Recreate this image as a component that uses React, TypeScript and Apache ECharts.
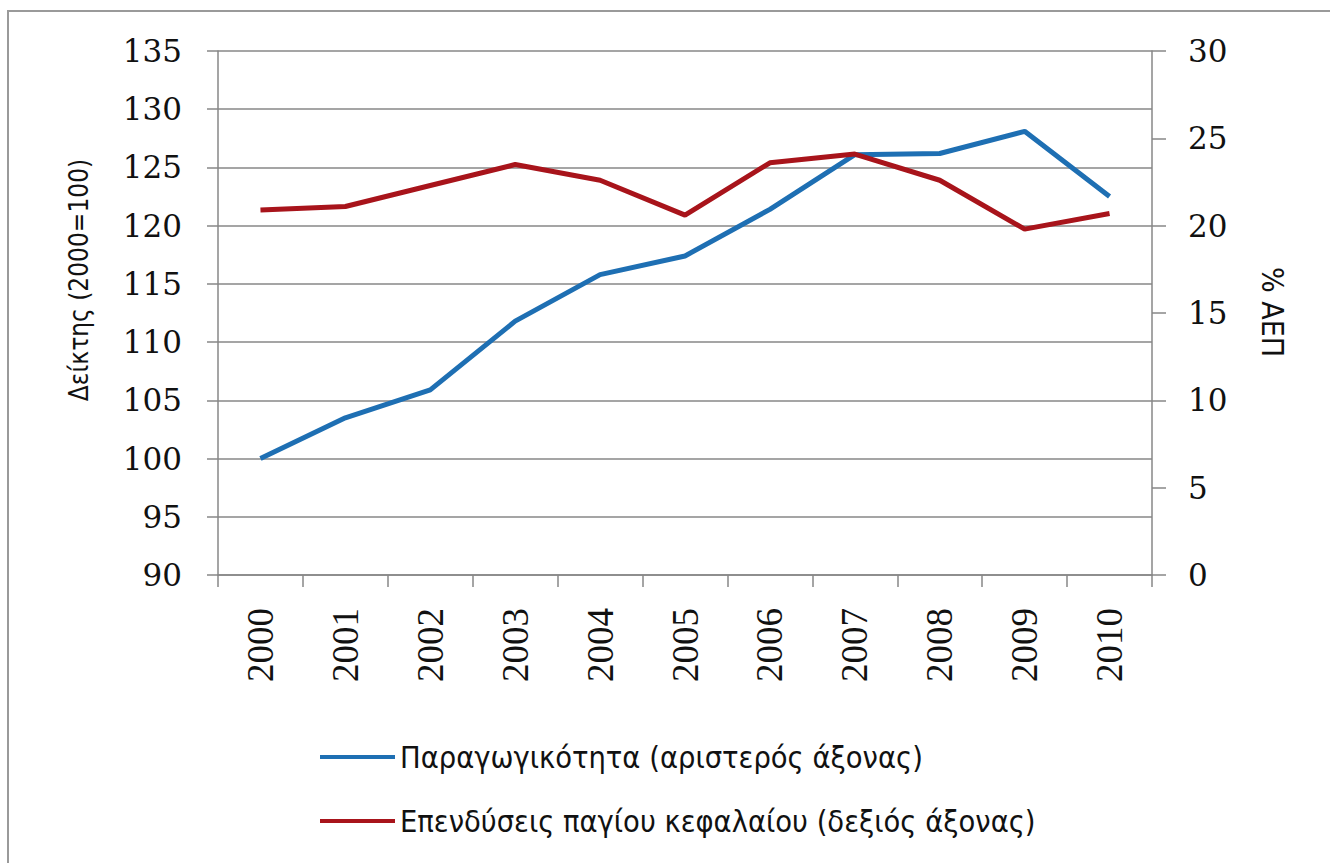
import React, { useEffect, useRef } from "react";
import * as echarts from "echarts";

const years = ["2000", "2001", "2002", "2003", "2004", "2005", "2006", "2007", "2008", "2009", "2010"];
const productivity = [100.0, 103.5, 105.9, 111.8, 115.8, 117.4, 121.4, 126.1, 126.2, 128.1, 122.5];
const investment = [20.9, 21.1, 22.3, 23.5, 22.6, 20.6, 23.6, 24.1, 22.6, 19.8, 20.7];
const productivityName = "Παραγωγικότητα (αριστερός άξονας)";
const investmentName = "Επενδύσεις παγίου κεφαλαίου (δεξιός άξονας)";
const leftTitle = "Δείκτης (2000=100)";
const rightTitle = "% ΑΕΠ";

const GRAY = "#878787";
const SANS = "'Liberation Sans Narrow', 'DejaVu Sans Condensed', 'Liberation Sans', sans-serif";

export default function App() {
  const ref = useRef<HTMLDivElement>(null);
  useEffect(() => {
    if (!ref.current) return;
    const chart = echarts.init(ref.current, null, { renderer: "svg" });
    chart.setOption({
      animation: false,
      backgroundColor: "#ffffff",
      grid: { left: 218, right: 178, top: 51, bottom: 288, containLabel: false },
      xAxis: {
        type: "category",
        data: years,
        boundaryGap: true,
        axisLine: { show: true, lineStyle: { color: GRAY, width: 1.5 } },
        axisTick: { show: true, length: 12, lineStyle: { color: GRAY, width: 1.5 } },
        axisLabel: {
          rotate: 90,
          margin: 33,
          color: "#111",
          fontFamily: "'Liberation Serif', serif",
          fontSize: 37,
        },
      },
      yAxis: [
        {
          type: "value",
          min: 90,
          max: 135,
          interval: 5,
          position: "left",
          axisLine: { show: true, lineStyle: { color: GRAY, width: 1.5 } },
          axisTick: { show: true, length: 11, lineStyle: { color: GRAY, width: 1.5 } },
          splitLine: { show: true, lineStyle: { color: GRAY, width: 1.5 } },
          axisLabel: {
            margin: 36,
            color: "#111",
            fontFamily: "'DejaVu Serif', serif",
            fontSize: 31,
          },
        },
        {
          type: "value",
          min: 0,
          max: 30,
          interval: 5,
          position: "right",
          axisLine: { show: true, lineStyle: { color: GRAY, width: 1.5 } },
          axisTick: { show: true, length: 14, lineStyle: { color: GRAY, width: 1.5 } },
          splitLine: { show: false },
          axisLabel: {
            margin: 36,
            color: "#111",
            fontFamily: "'DejaVu Serif', serif",
            fontSize: 31,
          },
        },
      ],
      legend: {
        orient: "vertical",
        left: 315,
        top: 735,
        icon: "rect",
        itemWidth: 75,
        itemHeight: 4,
        itemGap: 30,
        textStyle: { fontFamily: SANS, fontSize: 30.5, color: "#111", lineHeight: 34 },
        data: [productivityName, investmentName],
      },
      series: [
        {
          name: productivityName,
          type: "line",
          yAxisIndex: 0,
          data: productivity,
          symbol: "none",
          color: "#1E6FB3",
          lineStyle: { color: "#1E6FB3", width: 5 },
        },
        {
          name: investmentName,
          type: "line",
          yAxisIndex: 1,
          data: investment,
          symbol: "none",
          color: "#A8141B",
          lineStyle: { color: "#A8141B", width: 5 },
        },
      ],
      graphic: [
        {
          type: "rect",
          shape: { x: 8, y: 11, width: 1500, height: 1000 },
          style: { fill: "none", stroke: "#9a9a9a", lineWidth: 2 },
          silent: true,
        },
        {
          type: "text",
          x: 79,
          y: 280,
          rotation: Math.PI / 2,
          style: {
            text: leftTitle,
            fontFamily: SANS,
            fontSize: 26,
            fill: "#111",
            align: "center",
            verticalAlign: "middle",
          },
        },
        {
          type: "text",
          x: 1272,
          y: 312,
          rotation: -Math.PI / 2,
          style: {
            text: rightTitle,
            fontFamily: SANS,
            fontSize: 30,
            fill: "#111",
            align: "center",
            verticalAlign: "middle",
          },
        },
      ],
    });
    return () => chart.dispose();
  }, []);
  return (
    <div
      ref={ref}
      style={{ position: "fixed", left: 0, top: 0, width: 1330, height: 863, background: "#fff" }}
    />
  );
}
